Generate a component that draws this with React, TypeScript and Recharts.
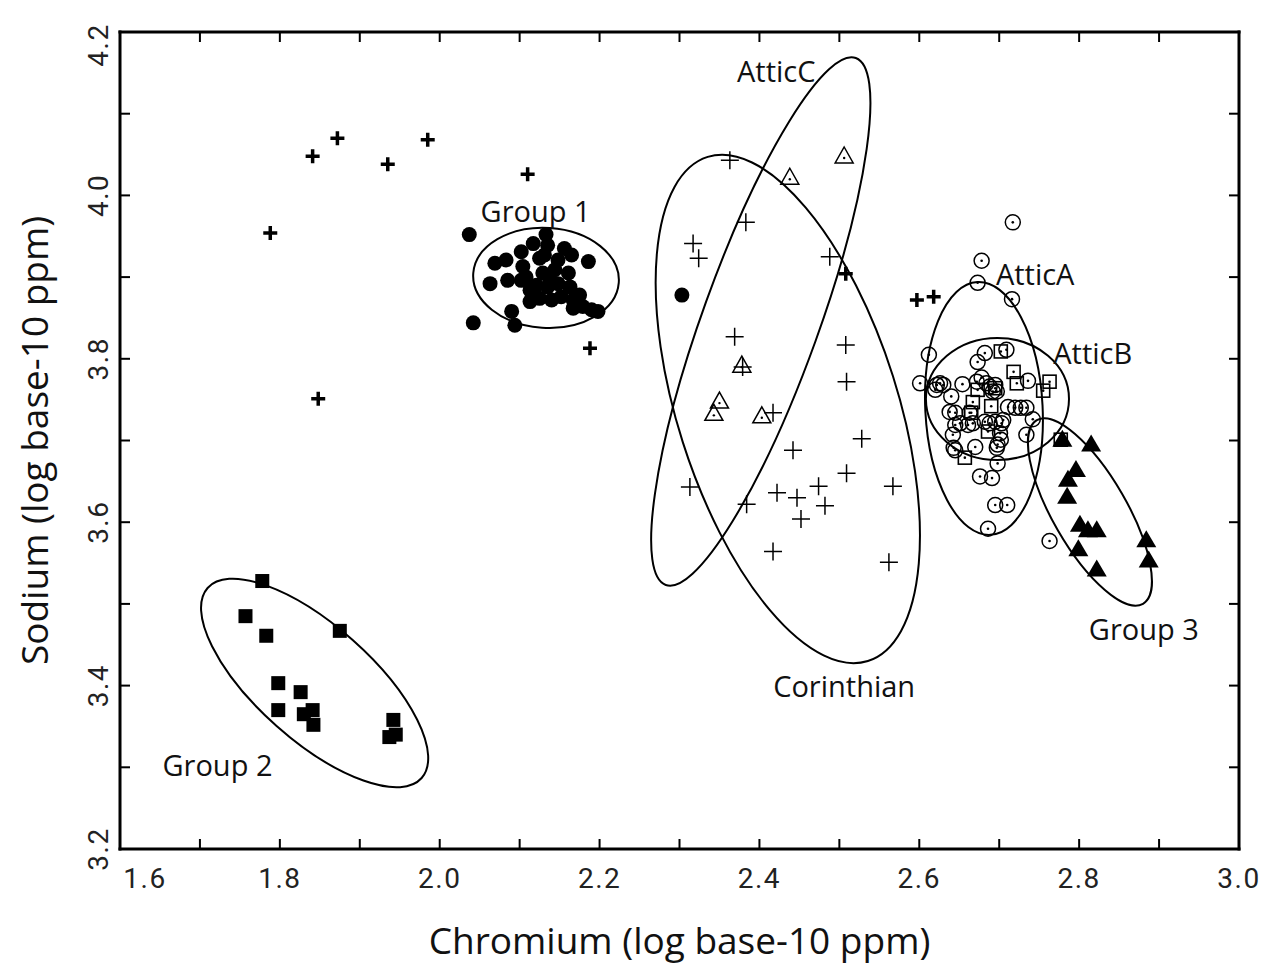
import React from "react";
import { ScatterChart, Scatter, XAxis, YAxis, Label } from "recharts";

// axis ticks (minor every 0.1, labels every 0.2)
const xTicks = [1.6, 1.7, 1.8, 1.9, 2.0, 2.1, 2.2, 2.3, 2.4, 2.5, 2.6, 2.7, 2.8, 2.9, 3.0];
const xTickLabels = ["1.6", "1.8", "2.0", "2.2", "2.4", "2.6", "2.8", "3.0"];
const yTicks = [3.2, 3.3, 3.4, 3.5, 3.6, 3.7, 3.8, 3.9, 4.0, 4.1, 4.2];
const yTickLabels = ["3.2", "3.4", "3.6", "3.8", "4.0", "4.2"];

// [chromium, sodium] pairs, log10 ppm
const unassigned = [
  [1.788, 3.954], [1.841, 4.048], [1.872, 4.07], [1.935, 4.038], [1.985, 4.068], [2.11, 4.026],
  [1.848, 3.751], [2.188, 3.813], [2.508, 3.904], [2.597, 3.872], [2.618, 3.876],
];

const group1 = [
  [2.037, 3.952], [2.042, 3.844], [2.069, 3.917], [2.083, 3.921], [2.063, 3.892], [2.085, 3.896],
  [2.102, 3.931], [2.104, 3.913], [2.117, 3.941], [2.125, 3.923], [2.133, 3.952], [2.135, 3.939],
  [2.156, 3.935], [2.165, 3.927], [2.186, 3.919], [2.108, 3.9], [2.121, 3.89], [2.113, 3.884],
  [2.129, 3.905], [2.144, 3.909], [2.135, 3.888], [2.148, 3.892], [2.161, 3.905], [2.163, 3.888],
  [2.113, 3.87], [2.125, 3.874], [2.14, 3.872], [2.152, 3.876], [2.167, 3.872], [2.175, 3.878],
  [2.167, 3.862], [2.179, 3.864], [2.19, 3.86], [2.198, 3.858], [2.09, 3.858], [2.094, 3.841],
  [2.102, 3.896], [2.138, 3.896], [2.131, 3.927], [2.148, 3.921], [2.303, 3.878],
];

const group2 = [
  [1.778, 3.528], [1.757, 3.485], [1.783, 3.461], [1.798, 3.403], [1.798, 3.37], [1.826, 3.392],
  [1.83, 3.365], [1.841, 3.37], [1.842, 3.352], [1.875, 3.467], [1.942, 3.358], [1.945, 3.34],
  [1.937, 3.337],
];

const group3 = [
  [2.779, 3.701], [2.815, 3.695], [2.796, 3.664], [2.786, 3.652], [2.785, 3.631], [2.801, 3.597],
  [2.811, 3.59], [2.822, 3.59], [2.799, 3.567], [2.822, 3.542], [2.884, 3.578], [2.887, 3.553],
];

const atticC = [
  [2.506, 4.047], [2.438, 4.021], [2.378, 3.791], [2.35, 3.747], [2.343, 3.732], [2.403, 3.729],
];

const corinthian = [
  [2.363, 4.043], [2.383, 3.967], [2.317, 3.941], [2.324, 3.923], [2.488, 3.925], [2.369, 3.827],
  [2.508, 3.817], [2.379, 3.79], [2.509, 3.772], [2.417, 3.734], [2.528, 3.702], [2.442, 3.688],
  [2.313, 3.643], [2.509, 3.66], [2.474, 3.644], [2.422, 3.636], [2.384, 3.622], [2.447, 3.63],
  [2.482, 3.62], [2.452, 3.604], [2.567, 3.644], [2.417, 3.564], [2.562, 3.551],
];

const atticA = [
  [2.717, 3.967], [2.678, 3.92], [2.673, 3.893], [2.716, 3.873], [2.612, 3.805], [2.601, 3.77],
  [2.622, 3.768], [2.626, 3.77], [2.63, 3.768], [2.62, 3.762], [2.64, 3.754], [2.654, 3.769],
  [2.673, 3.796], [2.682, 3.807], [2.709, 3.811], [2.672, 3.772], [2.678, 3.777], [2.684, 3.77],
  [2.688, 3.766], [2.695, 3.768], [2.692, 3.76], [2.697, 3.76], [2.736, 3.773], [2.638, 3.735],
  [2.645, 3.734], [2.663, 3.734], [2.645, 3.719], [2.651, 3.721], [2.661, 3.719], [2.667, 3.721],
  [2.711, 3.741], [2.72, 3.74], [2.727, 3.74], [2.734, 3.74], [2.742, 3.726], [2.682, 3.723],
  [2.688, 3.721], [2.695, 3.723], [2.703, 3.721], [2.705, 3.725], [2.642, 3.707], [2.701, 3.709],
  [2.702, 3.701], [2.734, 3.707], [2.643, 3.691], [2.645, 3.688], [2.67, 3.692], [2.697, 3.691],
  [2.698, 3.695], [2.698, 3.672], [2.676, 3.656], [2.691, 3.654], [2.695, 3.621], [2.71, 3.621],
  [2.686, 3.592], [2.763, 3.577],
];

const atticB = [
  [2.702, 3.809], [2.718, 3.784], [2.722, 3.77], [2.763, 3.772], [2.755, 3.761], [2.667, 3.747],
  [2.69, 3.742], [2.665, 3.734], [2.686, 3.711], [2.657, 3.679], [2.673, 3.762], [2.695, 3.764],
  [2.777, 3.701],
];

// ellipses: centre, end of one semi-axis, end of the other
const ellGroup1 = [[2.133, 3.899], [2.224, 3.893], [2.128, 3.838]];
const ellGroup2 = [[1.8435, 3.4032], [1.9774, 3.2869], [1.7959, 3.3506]];
const ellCorinthian = [[2.4355, 3.7386], [2.5357, 3.4301], [2.567, 3.7789]];
const ellAtticC = [[2.4017, 3.8457], [2.5206, 4.1682], [2.4701, 3.8215]];
const ellAtticA = [[2.6809, 3.7392], [2.6889, 3.5845], [2.7542, 3.7428]];
const ellAtticB = [[2.6978, 3.7508], [2.7873, 3.7508], [2.6978, 3.6761]];
const ellGroup3 = [[2.8135, 3.6125], [2.8799, 3.5001], [2.7735, 3.5898]];

const groupLabels = [
  { text: "Group 1", x: 2.12, y: 3.982 },
  { text: "AtticC", x: 2.421, y: 4.153 },
  { text: "AtticA", x: 2.745, y: 3.905 },
  { text: "AtticB", x: 2.817, y: 3.808 },
  { text: "Corinthian", x: 2.506, y: 3.4 },
  { text: "Group 2", x: 1.722, y: 3.303 },
  { text: "Group 3", x: 2.881, y: 3.47 },
];

const pts = (a: number[][]) => a.map(([x, y]) => ({ x, y }));

const SANS = "'Open Sans', 'Noto Sans', sans-serif";
const TICKFONT = "Roboto, 'Liberation Sans', sans-serif";

const FilledCircle = (p: any) => <circle cx={p.cx} cy={p.cy} r={7.5} fill="#000" />;
const BoldPlus = (p: any) => (
  <path d={`M${p.cx - 7},${p.cy}H${p.cx + 7}M${p.cx},${p.cy - 7}V${p.cy + 7}`} stroke="#000" strokeWidth={3.5} />
);
const ThinPlus = (p: any) => (
  <path d={`M${p.cx - 9},${p.cy}H${p.cx + 9}M${p.cx},${p.cy - 9}V${p.cy + 9}`} stroke="#000" strokeWidth={1.5} />
);
const OpenTriangle = (p: any) => (
  <g>
    <path d={`M${p.cx},${p.cy - 10}L${p.cx + 9},${p.cy + 6}L${p.cx - 9},${p.cy + 6}Z`} fill="none" stroke="#000" strokeWidth={1.5} />
    <circle cx={p.cx} cy={p.cy + 1} r={1.2} fill="#000" />
  </g>
);
const FilledTriangle = (p: any) => (
  <path d={`M${p.cx},${p.cy - 10}L${p.cx + 10},${p.cy + 7}L${p.cx - 10},${p.cy + 7}Z`} fill="#000" />
);
const FilledSquare = (p: any) => <rect x={p.cx - 7} y={p.cy - 7} width={14} height={14} fill="#000" />;
const OpenCircle = (p: any) => (
  <g>
    <circle cx={p.cx} cy={p.cy} r={7.5} fill="none" stroke="#000" strokeWidth={1.5} />
    <circle cx={p.cx} cy={p.cy} r={1.3} fill="#000" />
  </g>
);
const OpenSquare = (p: any) => (
  <g>
    <rect x={p.cx - 6.5} y={p.cy - 6.5} width={13} height={13} fill="none" stroke="#000" strokeWidth={1.6} />
    <circle cx={p.cx} cy={p.cy} r={1.3} fill="#000" />
  </g>
);
const Nothing = () => <g />;

const GroupLabel = (p: any) => (
  <text x={p.cx} y={p.cy} textAnchor="middle" dominantBaseline="central" fontFamily={SANS} fontSize={29} fill="#111">
    {p.payload.text}
  </text>
);

// draws the ellipse spanned by the centre and two semi-axis end points (pixel space)
const ellipseLine = (props: any) => {
  const [c, a, b] = props.points;
  return (
    <ellipse
      cx={0}
      cy={0}
      rx={1}
      ry={1}
      transform={`matrix(${a.x - c.x},${a.y - c.y},${b.x - c.x},${b.y - c.y},${c.x},${c.y})`}
      fill="none"
      stroke="#000"
      strokeWidth={2}
      vectorEffect="non-scaling-stroke"
    />
  );
};

const XTick = (props: any) => {
  const { x, y, payload } = props;
  const label = Number(payload.value).toFixed(1);
  if (!xTickLabels.includes(label)) return <g />;
  const shift = label === xTickLabels[0] ? 25 : 0;
  return (
    <text x={x + shift} y={y + 19} textAnchor="middle" fontFamily={TICKFONT} fontSize={28} letterSpacing={1.5} fill="#222">
      {label}
    </text>
  );
};

const YTick = (props: any) => {
  const { x, y, payload } = props;
  const label = Number(payload.value).toFixed(1);
  if (!yTickLabels.includes(label)) return <g />;
  const shift = label === yTickLabels[yTickLabels.length - 1] ? -13 : 0;
  return (
    <text transform={`translate(${x},${y}) rotate(-90)`} x={shift} y={10} textAnchor="middle" fontFamily={TICKFONT} fontSize={28} letterSpacing={1.5} fill="#222">
      {label}
    </text>
  );
};

const axisLine = { stroke: "#000", strokeWidth: 3, strokeLinecap: "square" as const };
const tickLine = { stroke: "#000", strokeWidth: 2 };

export default function App() {
  return (
    <div style={{ position: "absolute", left: 0, top: 0, background: "#fff" }}>
      <ScatterChart width={1270} height={966} margin={{ top: 30, right: 29, bottom: 57, left: 60 }}>
        <XAxis
          type="number"
          dataKey="x"
          domain={[1.6, 3.0]}
          ticks={xTicks}
          interval={0}
          allowDataOverflow
          height={60}
          axisLine={axisLine}
          tickLine={tickLine}
          tickSize={-10}
          tickMargin={30}
          tick={<XTick />}
        >
          <Label
            content={(p: any) => (
              <text x={p.viewBox.x + p.viewBox.width / 2} y={954} textAnchor="middle" fontFamily={SANS} fontSize={37} fill="#111">
                Chromium (log base-10 ppm)
              </text>
            )}
          />
        </XAxis>
        <XAxis
          xAxisId="top"
          orientation="top"
          type="number"
          dataKey="x"
          domain={[1.6, 3.0]}
          ticks={xTicks}
          interval={0}
          allowDataOverflow
          height={2}
          axisLine={axisLine}
          tickLine={tickLine}
          tickSize={-10}
          tick={<Nothing />}
        />
        <YAxis
          type="number"
          dataKey="y"
          domain={[3.2, 4.2]}
          ticks={yTicks}
          interval={0}
          allowDataOverflow
          width={60}
          axisLine={axisLine}
          tickLine={tickLine}
          tickSize={-10}
          tickMargin={32}
          tick={<YTick />}
        >
          <Label
            content={(p: any) => (
              <text
                transform={`translate(48,${p.viewBox.y + p.viewBox.height / 2}) rotate(-90)`}
                textAnchor="middle"
                fontFamily={SANS}
                fontSize={37}
                fill="#111"
              >
                Sodium (log base-10 ppm)
              </text>
            )}
          />
        </YAxis>
        <YAxis
          yAxisId="right"
          orientation="right"
          type="number"
          dataKey="y"
          domain={[3.2, 4.2]}
          ticks={yTicks}
          interval={0}
          allowDataOverflow
          width={2}
          axisLine={axisLine}
          tickLine={tickLine}
          tickSize={-10}
          tick={<Nothing />}
        />

        <Scatter data={pts(ellGroup1)} shape={Nothing} line={ellipseLine} isAnimationActive={false} />
        <Scatter data={pts(ellGroup2)} shape={Nothing} line={ellipseLine} isAnimationActive={false} />
        <Scatter data={pts(ellCorinthian)} shape={Nothing} line={ellipseLine} isAnimationActive={false} />
        <Scatter data={pts(ellAtticC)} shape={Nothing} line={ellipseLine} isAnimationActive={false} />
        <Scatter data={pts(ellAtticA)} shape={Nothing} line={ellipseLine} isAnimationActive={false} />
        <Scatter data={pts(ellAtticB)} shape={Nothing} line={ellipseLine} isAnimationActive={false} />
        <Scatter data={pts(ellGroup3)} shape={Nothing} line={ellipseLine} isAnimationActive={false} />

        <Scatter name="Corinthian" data={pts(corinthian)} shape={ThinPlus} isAnimationActive={false} />
        <Scatter name="AtticC" data={pts(atticC)} shape={OpenTriangle} isAnimationActive={false} />
        <Scatter name="AtticA" data={pts(atticA)} shape={OpenCircle} isAnimationActive={false} />
        <Scatter name="AtticB" data={pts(atticB)} shape={OpenSquare} isAnimationActive={false} />
        <Scatter name="Group 3" data={pts(group3)} shape={FilledTriangle} isAnimationActive={false} />
        <Scatter name="Group 2" data={pts(group2)} shape={FilledSquare} isAnimationActive={false} />
        <Scatter name="Group 1" data={pts(group1)} shape={FilledCircle} isAnimationActive={false} />
        <Scatter name="Unassigned" data={pts(unassigned)} shape={BoldPlus} isAnimationActive={false} />

        <Scatter data={groupLabels} shape={GroupLabel} isAnimationActive={false} />
      </ScatterChart>
    </div>
  );
}
